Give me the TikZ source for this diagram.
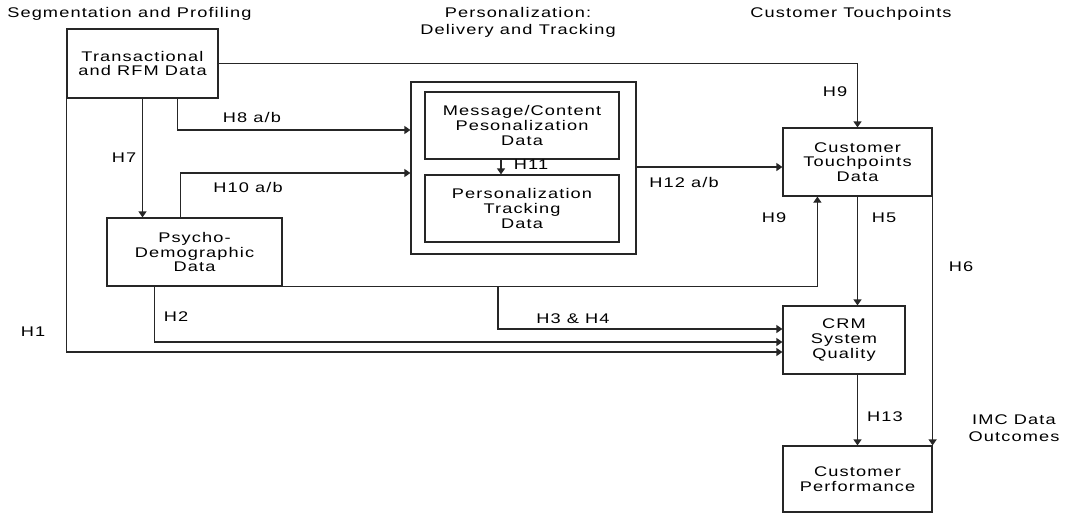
\documentclass[tikz,border=0pt]{standalone}
\usepackage{fontspec}
\setmainfont{Liberation Sans}[FakeStretch=1.3,LetterSpace=8]
\usetikzlibrary{arrows.meta,calc}
\begin{document}
\begin{tikzpicture}[x=0.75pt,y=-0.75pt,
  every node/.style={font=\fontsize{10.5}{11}\selectfont,text=black},
  box/.style={draw=black!85,line width=0.9pt,inner sep=0pt,align=center},
  ln/.style={draw=black!85,line width=0.9pt},
  arr/.style={ln,-{Triangle[length=4.5pt,width=6pt]}},
  lbl/.style={inner sep=0pt},
  head/.style={inner sep=0pt,align=center,font=\fontsize{10.5}{12.75}\selectfont}]
\useasboundingbox (0,0) rectangle (1071,514);
% boxes
\node[box,minimum width=113.25pt,minimum height=51.75pt] (tr) at (142.5,63.5) {Transactional\\and RFM Data};
\node[box,minimum width=131.25pt,minimum height=51pt] (psy) at (194.5,252) {Psycho-\\Demographic\\Data};
\node[box,minimum width=168.75pt,minimum height=129pt] (outer) at (523.5,168) {};
\node[box,minimum width=145.5pt,minimum height=50.25pt] (msg) at (522,125.5) {Message/Content\\Pesonalization\\Data};
\node[box,minimum width=145.5pt,minimum height=50.25pt] (trk) at (522,208.5) {Personalization\\Tracking\\Data};
\node[box,minimum width=111.75pt,minimum height=51pt] (ct) at (857.5,162) {Customer\\Touchpoints\\Data};
\node[box,minimum width=91.5pt,minimum height=51pt] (crm) at (844,340) {CRM\\System\\Quality};
\node[box,minimum width=111.75pt,minimum height=49.5pt] (perf) at (857.5,479) {Customer\\Performance};
% headings
\node[head,anchor=west] (h1) at (7,14) {Segmentation and Profiling};
\node[head] (h2) at (518,22.5) {Personalization:\\Delivery and Tracking};
\node[head] (h3) at (851,14) {Customer Touchpoints};
\node[head] (h4) at (1014,428) {IMC Data\\Outcomes};
% connectors
\draw[arr] (tr.east) -| (ct.north);
\draw[arr] ($(tr.south west)+(111,0)$) |- (outer.west |- 0,130);
\draw[arr] (tr.south) -- (tr.south |- psy.north);
\draw[arr] (tr.south west) |- (crm.west |- 0,352);
\draw[arr] ($(psy.north west)+(74,0)$) |- (outer.west |- 0,173);
\draw[arr] ($(psy.south west)+(48,0)$) |- (crm.west |- 0,342);
\draw[arr] (psy.south east) -| ($(ct.south west)+(35,0)$);
\coordinate (j) at (498,286);
\draw[arr] (j) |- (crm.west |- 0,329);
\draw[arr] (outer.east |- 0,167) -- (ct.west |- 0,167);
\draw[arr] (msg.south -| 501,0) -- (trk.north -| 501,0);
\draw[arr] (ct.south) -- (ct.south |- crm.north);
\draw[arr] (perf.north |- crm.south) -- (perf.north);
\draw[arr] (ct.south east) -- (perf.north east);
% labels
\node[lbl] (l9a) at (835,92) {H9};
\node[lbl] (l8) at (252,117) {H8 a/b};
\node[lbl] (l7) at (124,158) {H7};
\node[lbl] (l10) at (248,187) {H10 a/b};
\node[lbl] (l11) at (531,165) {H11};
\node[lbl] (l12) at (684,182) {H12 a/b};
\node[lbl] (l9b) at (774,218) {H9};
\node[lbl] (l5) at (884,218) {H5};
\node[lbl] (l6) at (961,267) {H6};
\node[lbl] (l2) at (176,317) {H2};
\node[lbl] (l1) at (33,332) {H1};
\node[lbl] (l34) at (573,319) {H3 \& H4};
\node[lbl] (l13) at (885,417) {H13};
\end{tikzpicture}
\end{document}
